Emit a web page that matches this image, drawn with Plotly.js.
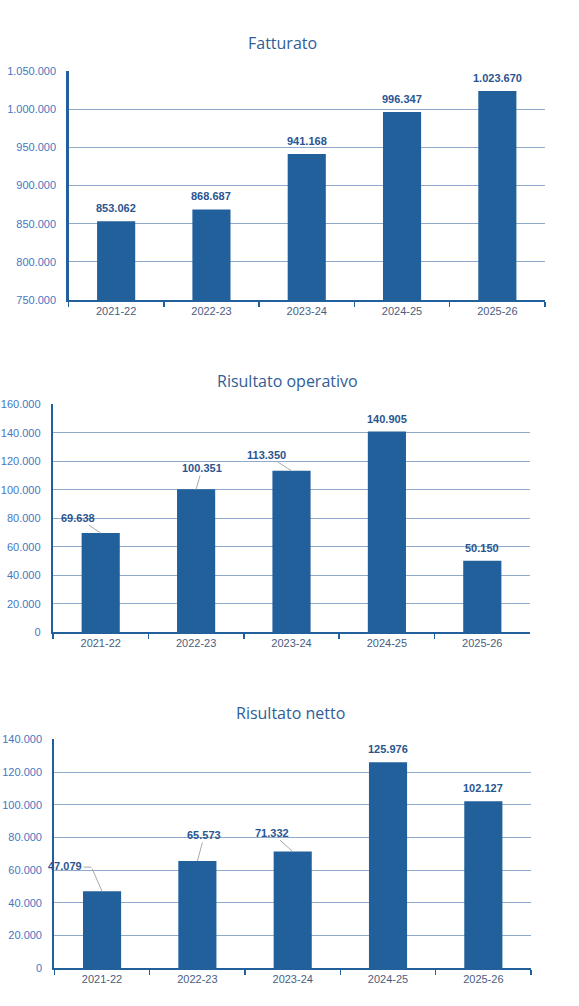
<!DOCTYPE html>
<html>
<head>
<meta charset="utf-8">
<script src="https://cdn.plot.ly/plotly-3.0.1.min.js"></script>
<style>
  html, body { margin: 0; padding: 0; background: #ffffff; }
  #chart { width: 579px; height: 1006px; }
</style>
</head>
<body>
<div id="chart"></div>
<script>
// Esercizi e valori (euro)
const categories = ['2021-22', '2022-23', '2023-24', '2024-25', '2025-26'];
const fatturato = [853062, 868687, 941168, 996347, 1023670];
const risultatoOperativo = [69638, 100351, 113350, 140905, 50150];
const risultatoNetto = [47079, 65573, 71332, 125976, 102127];

const titles = ['Fatturato', 'Risultato operativo', 'Risultato netto'];

// Palette and fonts
const BAR = '#22609b';
const GRID = '#8faacb';
const AXIS = '#22609b';
const YTICK = '#4677bf';
const XTICK = '#4a5d80';
const LABEL = '#2a5591';
const TITLE = '#2f5e98';
const LEADER = '#a9a9a9';
const NUM_FONT = 'Liberation Sans, Arial, sans-serif';
const TITLE_FONT = 'Open Sans, Noto Sans, sans-serif';

const W = 579, H = 1006;

// Panel geometry in pixels: plot box left/right/top/bottom, title centre
const panels = [
  { series: fatturato, left: 68.5, right: 545, top: 71, bottom: 300, range: [750000, 1050000], dtick: 50000, titleX: 282, titleY: 43 },
  { series: risultatoOperativo, left: 53, right: 530, top: 404.3, bottom: 632.3, range: [0, 160000], dtick: 20000, titleX: 287, titleY: 381 },
  { series: risultatoNetto, left: 54.4, right: 531, top: 739.3, bottom: 968.3, range: [0, 140000], dtick: 20000, titleX: 290, titleY: 713 }
];

// Value-label placement (pixel offsets from the bar top); null = centred above the bar
const labelPlacement = [
  [null, null, null, null, null],
  [{ ax: -23, ay: -15.5 }, { ax: 6, ay: -21 }, { ax: -25, ay: -16 }, null, null],
  [{ ax: -37, ay: -25, elbow: { ax: -10.5, ay: -24 } }, { ax: 7, ay: -26 }, { ax: -21, ay: -19 }, null, null]
];

function fmt(n) {
  return String(Math.round(n)).replace(/\B(?=(\d{3})+(?!\d))/g, '.');
}

const data = [];
const annotations = [];
const layout = {
  width: W, height: H,
  margin: { l: 0, r: 0, t: 0, b: 0, pad: 0 },
  paper_bgcolor: '#ffffff',
  plot_bgcolor: '#ffffff',
  showlegend: false,
  separators: ',.',
  bargap: 0.6,
  annotations: annotations
};

panels.forEach((p, i) => {
  const n = i === 0 ? '' : String(i + 1);
  const xa = 'x' + n, ya = 'y' + n;

  data.push({
    type: 'bar',
    x: categories,
    y: p.series,
    xaxis: xa, yaxis: ya,
    marker: { color: BAR, line: { width: 0 } },
    hoverinfo: 'skip'
  });

  layout['xaxis' + n] = {
    domain: [p.left / W, p.right / W],
    anchor: ya,
    type: 'category',
    autorange: false,
    range: [-0.5, categories.length - 0.5],
    showgrid: false,
    zeroline: false,
    showline: true,
    linecolor: AXIS,
    linewidth: 1.5,
    ticks: 'outside',
    tickson: 'boundaries',
    ticklen: 5,
    tickwidth: 1.5,
    tickcolor: AXIS,
    tickfont: { family: NUM_FONT, size: 11, color: XTICK },
    fixedrange: true
  };

  layout['yaxis' + n] = {
    domain: [1 - p.bottom / H, 1 - p.top / H],
    anchor: xa,
    autorange: false,
    range: p.range,
    dtick: p.dtick,
    tick0: 0,
    tickformat: ',d',
    showgrid: true,
    gridcolor: GRID,
    gridwidth: 1,
    zeroline: false,
    showline: true,
    linecolor: AXIS,
    linewidth: 2.2,
    ticks: 'outside',
    ticklen: 8,
    tickcolor: 'rgba(0,0,0,0)',
    tickfont: { family: NUM_FONT, size: 11, color: YTICK },
    fixedrange: true
  };

  annotations.push({
    xref: 'paper', yref: 'paper',
    x: p.titleX / W, y: 1 - p.titleY / H,
    xanchor: 'center', yanchor: 'middle',
    text: titles[i],
    showarrow: false,
    font: { family: TITLE_FONT, size: 16, color: TITLE }
  });

  p.series.forEach((v, k) => {
    const place = labelPlacement[i][k];
    const base = {
      xref: xa, yref: ya,
      x: categories[k], y: v,
      text: '<b>' + fmt(v) + '</b>',
      font: { family: NUM_FONT, size: 11, color: LABEL }
    };
    if (!place) {
      annotations.push(Object.assign(base, {
        showarrow: false, xanchor: 'center', yanchor: 'middle', yshift: 13
      }));
    } else if (place.elbow) {
      // bent leader: bar top -> elbow, then horizontal into the label
      annotations.push({
        xref: xa, yref: ya, x: categories[k], y: v,
        text: '', showarrow: true, arrowhead: 0, arrowwidth: 1,
        arrowcolor: LEADER, standoff: 0,
        ax: place.elbow.ax, ay: place.elbow.ay
      });
      annotations.push(Object.assign(base, {
        showarrow: true, arrowhead: 0, arrowwidth: 1, arrowcolor: LEADER,
        standoff: 0, borderpad: 1,
        xshift: place.elbow.ax, yshift: -place.elbow.ay,
        ax: place.ax - place.elbow.ax, ay: place.ay - place.elbow.ay
      }));
    } else {
      annotations.push(Object.assign(base, {
        showarrow: true, arrowhead: 0, arrowwidth: 1, arrowcolor: LEADER,
        standoff: 0, borderpad: 1,
        ax: place.ax, ay: place.ay
      }));
    }
  });
});

Plotly.newPlot('chart', data, layout, { staticPlot: true, displayModeBar: false });
</script>
</body>
</html>
